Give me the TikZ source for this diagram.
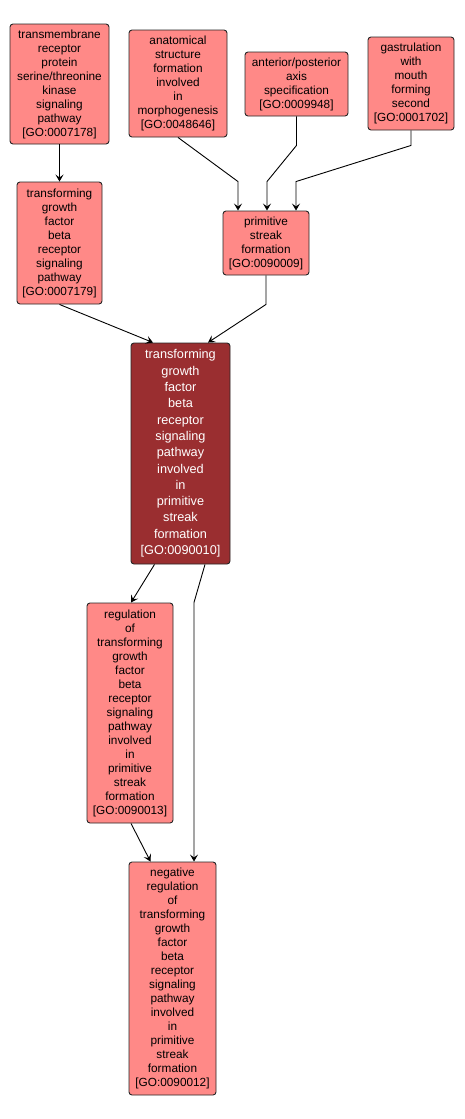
\documentclass[tikz,border=0pt]{standalone}
\usepackage{fontspec}
\setmainfont{Liberation Sans}
\usetikzlibrary{arrows.meta}
\definecolor{golight}{RGB}{255,137,135}
\definecolor{godark}{RGB}{154,46,48}
\tikzset{goterm/.style={draw=black!85,fill=golight,rounded corners=3pt,align=center,inner sep=0pt,line width=0.9pt,font=\fontsize{11.8}{14}\selectfont},
  gofocus/.style={goterm,fill=godark,text=white,font=\fontsize{12.7}{16.3}\selectfont},
  gosize/.style 2 args={minimum width=#1,minimum height=#2},
  isa/.style={draw=black,line width=0.9pt,-{Stealth[length=7pt,width=8pt,inset=3pt]}}}

\begin{document}
\begin{tikzpicture}[x=1pt,y=-1pt]
      \useasboundingbox (0,0) rectangle (464,1119);
      \node[goterm,gosize={99pt}{120pt}] at (59.5,84) (tmr) {transmembrane\\receptor\\protein\\serine/threonine\\kinase\\signaling\\pathway\\{}[GO:0007178]};
      \node[goterm,gosize={98pt}{107pt}] at (178,83.5) (asf) {anatomical\\structure\\formation\\involved\\in\\morphogenesis\\{}[GO:0048646]};
      \node[goterm,gosize={103pt}{64pt}] at (296.5,84) (aps) {anterior/posterior\\axis\\specification\\{}[GO:0009948]};
      \node[goterm,gosize={86pt}{93pt}] at (411,83.5) (gms) {gastrulation\\with\\mouth\\forming\\second\\{}[GO:0001702]};

      \node[goterm,gosize={85pt}{122pt}] at (59.5,243) (tgf) {transforming\\growth\\factor\\beta\\receptor\\signaling\\pathway\\{}[GO:0007179]};
      \node[goterm,gosize={86pt}{64pt}] at (266,243) (psf) {primitive\\streak\\formation\\{}[GO:0090009]};

      \node[gofocus,gosize={99pt}{221pt}] at (180.5,453.5) (foc) {transforming\\growth\\factor\\beta\\receptor\\signaling\\pathway\\involved\\in\\primitive\\streak\\formation\\{}[GO:0090010]};

      \node[goterm,gosize={86pt}{220pt}] at (130,713) (reg) {regulation\\of\\transforming\\growth\\factor\\beta\\receptor\\signaling\\pathway\\involved\\in\\primitive\\streak\\formation\\{}[GO:0090013]};
      \node[goterm,gosize={87pt}{233pt}] at (172.5,978.5) (neg) {negative\\regulation\\of\\transforming\\growth\\factor\\beta\\receptor\\signaling\\pathway\\involved\\in\\primitive\\streak\\formation\\{}[GO:0090012]};

      \draw[isa] (tmr.south) -- (tgf.north);
      \draw[isa] (asf.south) -- ([xshift=-28pt,yshift=29pt]psf.north) -- ([xshift=-28pt]psf.north);
      \draw[isa] (aps.south) -- ++(0,29) -- ([xshift=1pt,yshift=29pt]psf.north) -- ([xshift=1pt]psf.north);
      \draw[isa] (gms.south) -- ++(0,15) -- ([xshift=30pt,yshift=29pt]psf.north) -- ([xshift=30pt]psf.north);
      \draw[isa] (tgf.south) -- ([xshift=-27.5pt]foc.north);
      \draw[isa] (psf.south) -- ++(0,29) -- ([xshift=27.5pt]foc.north);
      \draw[isa] ([xshift=-26pt]foc.south) -- ([xshift=1pt]reg.north);
      \draw[isa] ([xshift=24.5pt]foc.south) -- ++(-11,38) -- ([xshift=21.5pt]neg.north);
      \draw[isa] ([xshift=1pt]reg.south) -- ([xshift=-22pt]neg.north);
\end{tikzpicture}
\end{document}
